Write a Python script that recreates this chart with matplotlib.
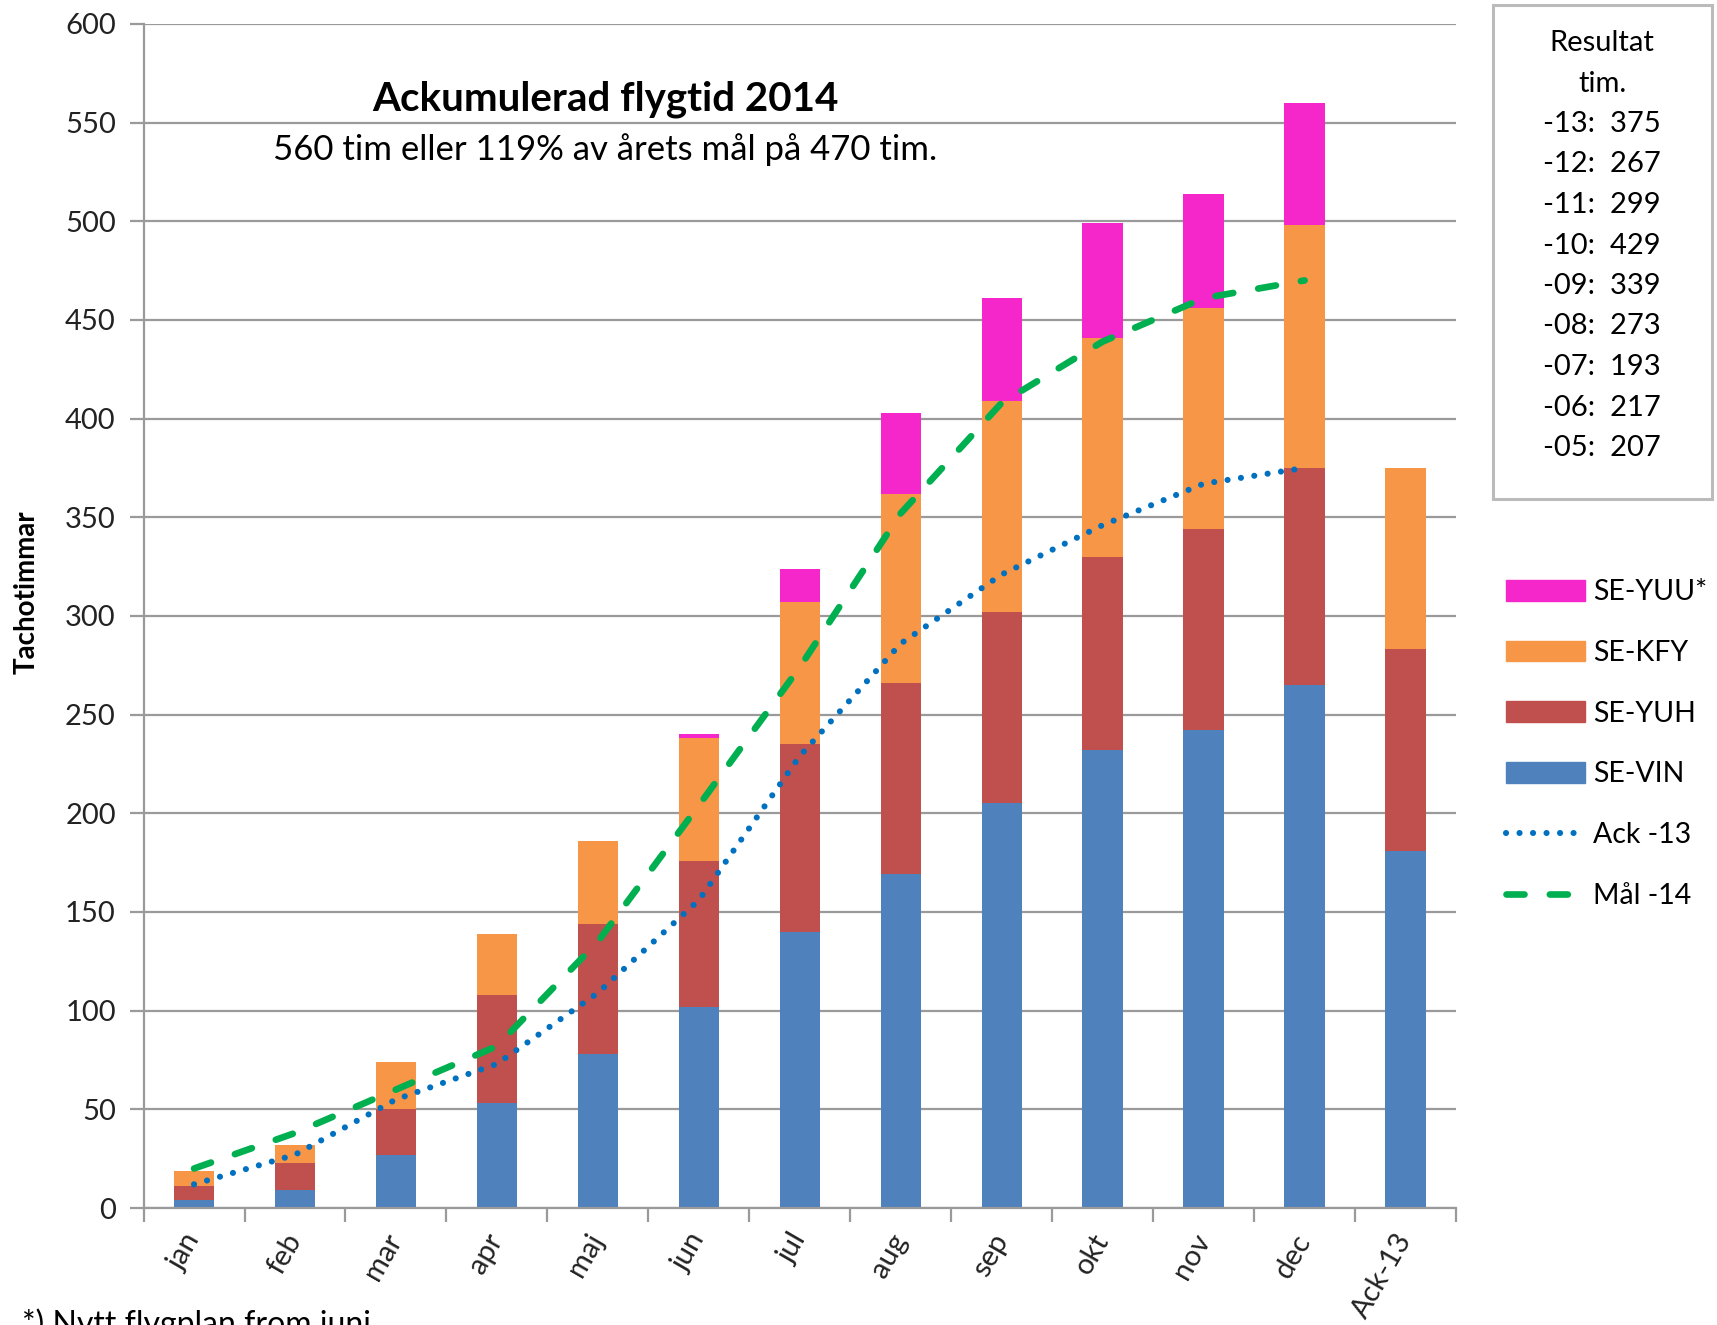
import matplotlib.pyplot as plt
from matplotlib.patches import Patch, Rectangle
from matplotlib.lines import Line2D

plt.rcParams['font.family'] = ['Lato', 'DejaVu Sans']

# categories and stacked values (hours)
months = ['jan', 'feb', 'mar', 'apr', 'maj', 'jun', 'jul', 'aug', 'sep', 'okt', 'nov', 'dec', 'Ack-13']
se_vin = [4, 9, 27, 53, 78, 102, 140, 169, 205, 232, 242, 265, 181]
se_yuh = [7, 14, 23, 55, 66, 74, 95, 97, 97, 98, 102, 110, 102]
se_kfy = [8, 9, 24, 31, 42, 62, 72, 96, 107, 111, 112, 123, 92]
se_yuu = [0, 0, 0, 0, 0, 2, 17, 41, 52, 58, 58, 62, 0]

# accumulated last year and this year's goal (jan..dec)
ack_13 = [12, 27, 55, 73, 109, 156, 229, 286, 321, 346, 367, 375]
mal_14 = [20, 38, 60, 82, 135, 204, 274, 352, 408, 439, 461, 470]

result_years = ['-13', '-12', '-11', '-10', '-09', '-08', '-07', '-06', '-05']
result_hours = [375, 267, 299, 429, 339, 273, 193, 217, 207]

c_vin = '#4F81BD'
c_yuh = '#C0504D'
c_kfy = '#F79646'
c_yuu = '#F526CA'
c_ack = '#0070C0'
c_mal = '#00B050'
grid_c = '#9A9A9A'

ack_style = (0, (0.01, 2.2))
mal_style = (0, (2.7, 3.8))

fig = plt.figure(figsize=(17.17, 13.25), dpi=100)
ax = fig.add_axes([0.0836, 0.0883, 0.7644, 0.8937])

x = list(range(len(months)))
w = 0.40
bottom = [0] * len(months)
for vals, col in [(se_vin, c_vin), (se_yuh, c_yuh), (se_kfy, c_kfy), (se_yuu, c_yuu)]:
    ax.bar(x, vals, w, bottom=bottom, color=col, edgecolor='none', zorder=2)
    bottom = [b + v for b, v in zip(bottom, vals)]

ax.plot(x[:12], ack_13, color=c_ack, lw=4.4, linestyle=ack_style,
        dash_capstyle='round', zorder=3)
ax.plot(x[:12], mal_14, color=c_mal, lw=4.8, linestyle=mal_style,
        dash_capstyle='round', zorder=3)

# axes styling
ax.set_xlim(-0.5, 12.5)
ax.set_ylim(0, 600)
ax.set_yticks(range(0, 601, 50))
ax.yaxis.grid(True, color=grid_c, lw=1.6, zorder=0)
ax.set_axisbelow(True)
for s in ['top', 'right']:
    ax.spines[s].set_visible(False)
for s in ['left', 'bottom']:
    ax.spines[s].set_color(grid_c)
    ax.spines[s].set_linewidth(1.6)
ax.tick_params(axis='y', length=10, width=1.6, color=grid_c, labelsize=21, pad=10, labelcolor='#222222')
ax.set_xticks(x)
ax.set_xticks([i - 0.5 for i in range(len(months) + 1)], minor=True)
ax.tick_params(axis='x', which='major', length=0, pad=20)
ax.tick_params(axis='x', which='minor', length=10, width=1.6, color=grid_c)
ax.set_xticklabels(months, rotation=60, ha='right', va='center', rotation_mode='anchor',
                   fontsize=21, color='#222222')

ax.set_ylabel('Tachotimmar', fontsize=20, fontweight='bold')
ax.yaxis.set_label_coords(-0.079, 0.52)

# title inside the plot
fig.text(605 / 1717, 1 - 99 / 1325, 'Ackumulerad flygtid 2014', fontsize=29,
         fontweight='bold', ha='center', va='center')
fig.text(605 / 1717, 1 - 150 / 1325, '560 tim eller 119% av årets mål på 470 tim.',
         fontsize=25, ha='center', va='center')

# result box
fig.patches.append(Rectangle((1493 / 1717, 1 - 499 / 1325), 219 / 1717, 494 / 1325,
                             transform=fig.transFigure, fill=False, edgecolor='#BBBBBB', lw=2.2))
box_lines = ['Resultat', 'tim.'] + [f'{y}:  {h}' for y, h in zip(result_years, result_hours)]
for i, t in enumerate(box_lines):
    fig.text(1602 / 1717, 1 - (43 + i * 40.5) / 1325, t, fontsize=21, ha='center', va='center')

# legend
handles = [Patch(color=c_yuu), Patch(color=c_kfy), Patch(color=c_yuh), Patch(color=c_vin),
           Line2D([], [], color=c_ack, lw=4.4, linestyle=ack_style, dash_capstyle='round'),
           Line2D([], [], color=c_mal, lw=4.8, linestyle=mal_style, dash_capstyle='round')]
labels = ['SE-YUU*', 'SE-KFY', 'SE-YUH', 'SE-VIN', 'Ack -13', 'Mål -14']
fig.legend(handles, labels, loc='upper left', bbox_to_anchor=(1492 / 1717, 1 - 565 / 1325),
           frameon=False, fontsize=20.5, handlelength=2.75, handleheight=0.75,
           labelspacing=1.22, handletextpad=0.3, borderpad=0)

fig.text(22 / 1717, 1 - 1308 / 1325, '*) Nytt flygplan from juni', fontsize=23,
         ha='left', va='top')

fig.savefig('out.png', dpi=100)
